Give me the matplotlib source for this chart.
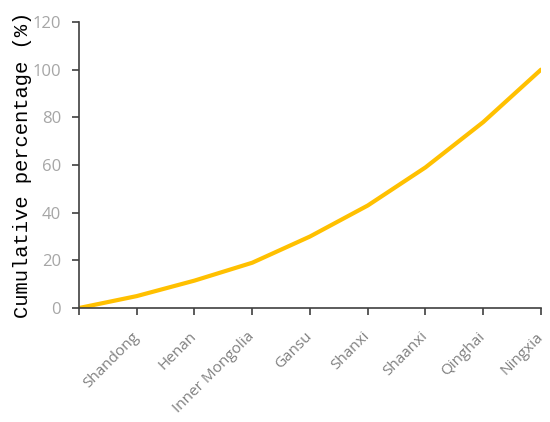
import matplotlib.pyplot as plt

provinces = ["Shandong", "Henan", "Inner Mongolia", "Gansu",
             "Shanxi", "Shaanxi", "Qinghai", "Ningxia"]
cumulative = [0, 5, 11.5, 19, 30, 43, 59, 78, 100]
yticks = [0, 20, 40, 60, 80, 100, 120]

fig = plt.figure(figsize=(5.5, 4.22), dpi=100)
ax = fig.add_axes([0.1436, 0.2701, 0.84, 0.6778])

x = list(range(len(cumulative)))
ax.plot(x, cumulative, color="#FFC000", linewidth=3, solid_capstyle="round")

ax.set_xlim(0, len(provinces))
ax.set_ylim(0, 120)
ax.set_xticks(x)
ax.set_xticklabels([""] + provinces, rotation=45, ha="right", va="center",
                   rotation_mode="anchor", color="#808080",
                   fontsize=11, family="Open Sans")
ax.set_yticks(yticks)
ax.set_yticklabels([str(v) for v in yticks], color="#a6a6a6",
                   fontsize=12, family="Open Sans")

for side in ["top", "right"]:
    ax.spines[side].set_visible(False)
for side in ["left", "bottom"]:
    ax.spines[side].set_color("#404040")
    ax.spines[side].set_linewidth(1.2)
ax.tick_params(axis="both", direction="out", length=5, width=1.2,
               color="#404040")
ax.tick_params(axis="x", pad=14)
ax.tick_params(axis="y", pad=8)

ax.set_ylabel("Cumulative percentage (%)", family="Liberation Mono",
              fontsize=14.8, labelpad=0)

fig.savefig("out.png", dpi=100)
